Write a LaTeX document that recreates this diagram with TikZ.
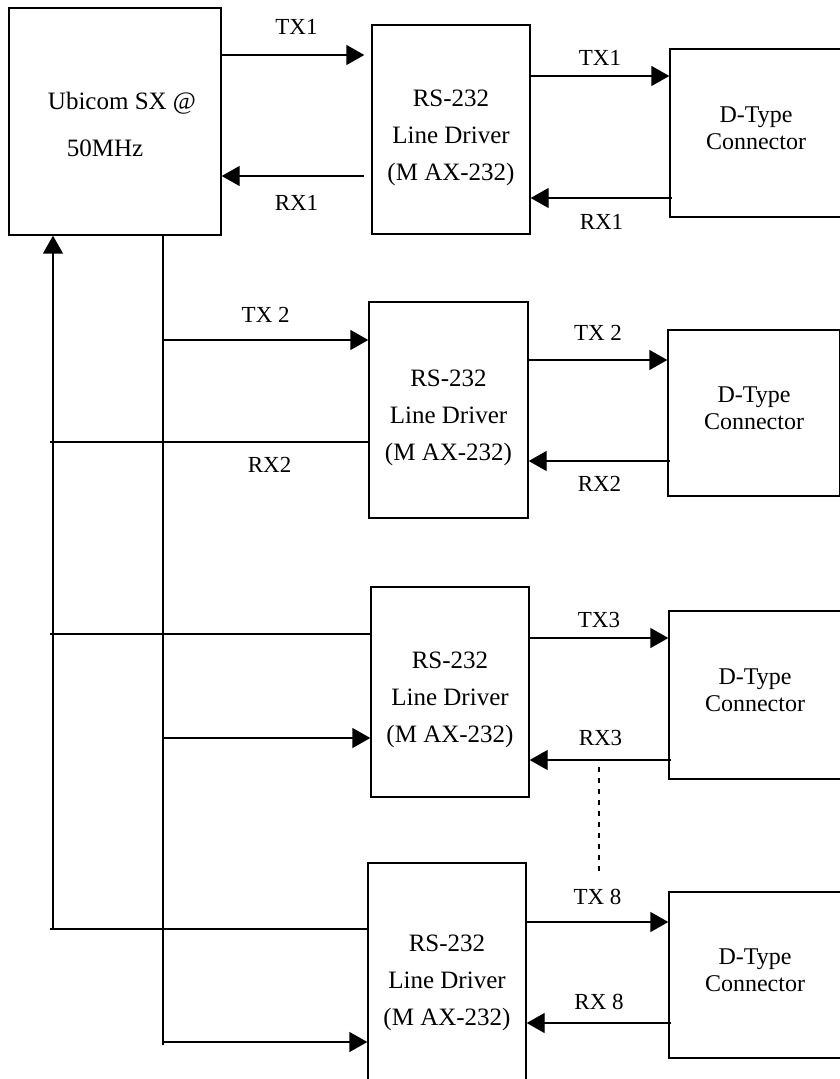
\documentclass[tikz,border=0pt]{standalone}
\usepackage{fontspec}
\setmainfont{Liberation Serif}
\usetikzlibrary{arrows.meta}

\begin{document}
\begin{tikzpicture}[x=0.5pt, y=-0.5pt,
  box/.style={draw, line width=0.7pt, inner sep=0pt, minimum width=#1},
  box/.default=79pt,
  drvtext/.style={align=center, inner sep=0pt, font=\fontsize{12.5}{18.5}\selectfont},
  context/.style={align=center, inner sep=0pt, font=\fontsize{12}{13.5}\selectfont},
  lbl/.style={inner sep=0pt, font=\fontsize{11.5}{13}\selectfont},
  line/.style={line width=0.7pt},
  arrow/.style={line, -{Triangle[length=9pt, width=10pt]}}]
  \useasboundingbox (0,0) rectangle (839,1079);
  % processor
  \node[box=106pt, minimum height=113.5pt] (mcu) at (115,121.5) {};
  \node[drvtext] (mcuA) at (122,103) {Ubicom SX @};
  \node[drvtext] (mcuB) at (105,148) {50MHz};
  % line drivers
  \node[box, minimum height=104.5pt] (drv1) at (451,129.5) {};
  \node[box=79.5pt, minimum height=108pt] (drv2) at (448.5,410) {};
  \node[box, minimum height=105pt] (drv3) at (450,692) {};
  \node[box, minimum height=112pt] (drv4) at (447,975) {};
  % connectors
  \node[box=86pt, minimum height=84pt] (con1) at (756,133) {};
  \node[box=86pt, minimum height=83pt] (con2) at (754,413) {};
  \node[box=86pt, minimum height=84pt] (con3) at (755,695) {};
  \node[box=86pt, minimum height=83pt] (con4) at (755,975) {};
  \foreach \i in {1,...,4} {
    \node[drvtext] (drv\i t) at ([yshift=-4pt]drv\i.center) {RS-232\\Line Driver\\(M AX-232)};
    \node[context] (con\i t) at ([yshift=2.5pt]con\i.center) {D-Type\\Connector};
  }
  % buses
  \coordinate (rxbus) at (53,929);
  \coordinate (txbus) at (163,1045);
  \draw[arrow] (rxbus) -- (rxbus |- mcu.south);
  \draw[line] (txbus |- mcu.south) -- (txbus);
  % channel 1
  \draw[arrow, shorten >=3.5pt] (mcu.east |- 0,55) -- (drv1.west |- 0,55) node[lbl, midway, yshift=14pt] {TX1};
  \draw[arrow, shorten <=3.5pt] (drv1.west |- 0,176) -- (mcu.east |- 0,176) node[lbl, midway, yshift=-13.5pt] {RX1};
  \draw[arrow] (drv1.east |- 0,76) -- (con1.west |- 0,76) node[lbl, midway, yshift=9pt] {TX1};
  \draw[arrow] ([xshift=1.5pt]con1.west |- 0,198) -- (drv1.east |- 0,198) node[lbl, midway, yshift=-12pt] {RX1};
  % channel 2
  \draw[arrow] (txbus |- 0,340) -- (drv2.west |- 0,340) node[lbl, midway, yshift=12.5pt] {TX 2};
  \draw[line] (drv2.west |- 0,442) -- ([xshift=-1.5pt]rxbus |- 0,442) node[lbl, pos=0.31, yshift=-11.5pt] {RX2};
  \draw[arrow] (drv2.east |- 0,360) -- (con2.west |- 0,360) node[lbl, midway, yshift=13.5pt] {TX 2};
  \draw[arrow] ([xshift=1.5pt]con2.west |- 0,461) -- (drv2.east |- 0,461) node[lbl, midway, yshift=-11.5pt] {RX2};
  % channel 3
  \draw[line] (drv3.west |- 0,634) -- ([xshift=-1.5pt]rxbus |- 0,634);
  \draw[arrow] (txbus |- 0,738) -- (drv3.west |- 0,738);
  \draw[arrow] (drv3.east |- 0,638) -- (con3.west |- 0,638) node[lbl, midway, yshift=9pt] {TX3};
  \draw[arrow] ([xshift=1.5pt]con3.west |- 0,760) -- (drv3.east |- 0,760) node[lbl, midway, yshift=11pt] {RX3};
  % channels 4 to 7 left out
  \coordinate (dotA) at (599,767);
  \coordinate (dotB) at (599,876);
  \draw[line width=1pt, dash pattern=on 2.5pt off 3pt] (dotA) -- (dotB);
  % channel 8
  \draw[line] (drv4.west |- 0,929) -- ([xshift=-1.5pt]rxbus);
  \draw[arrow] (txbus |- 0,1042) -- (drv4.west |- 0,1042);
  \draw[arrow] (drv4.east |- 0,922) -- (con4.west |- 0,922) node[lbl, midway, yshift=12.5pt] {TX 8};
  \draw[arrow] ([xshift=1.5pt]con4.west |- 0,1023) -- (drv4.east |- 0,1023) node[lbl, midway, yshift=10.5pt] {RX 8};
\end{tikzpicture}
\end{document}
